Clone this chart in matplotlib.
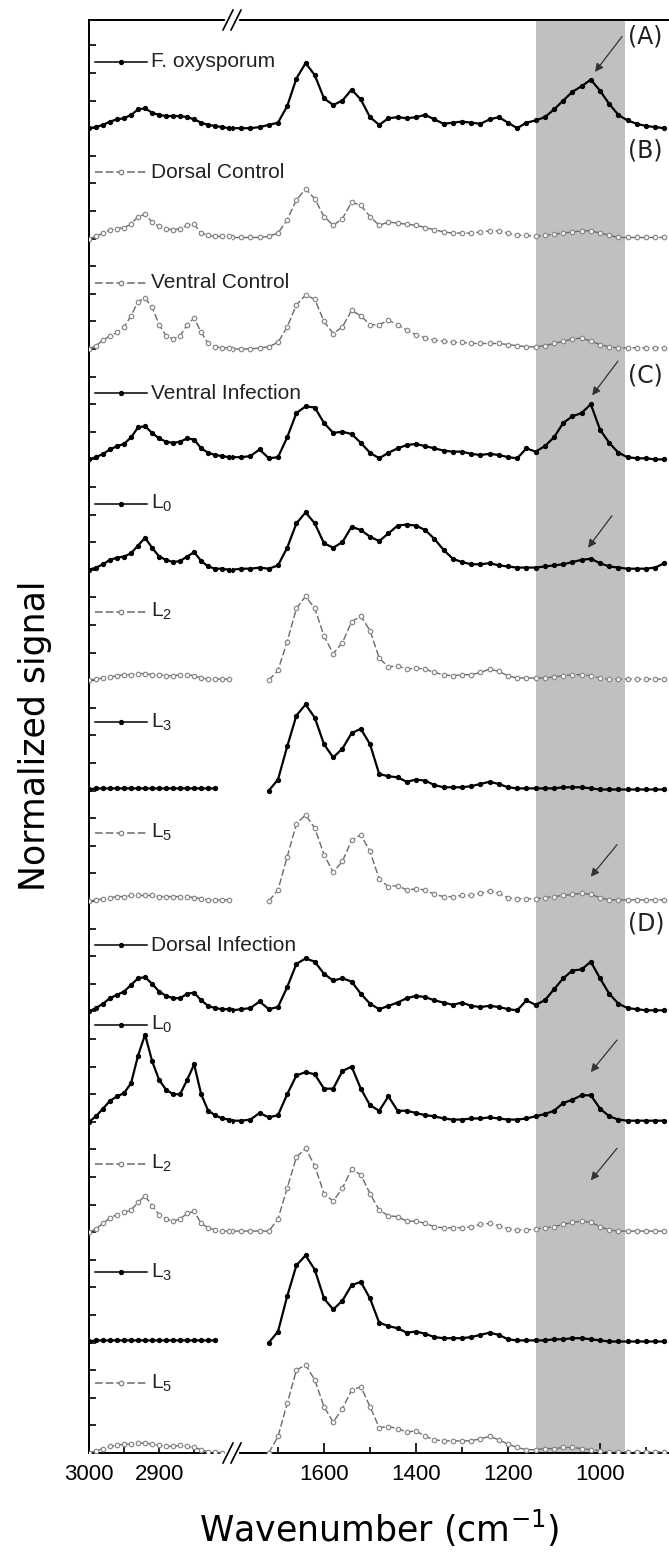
import numpy as np
import matplotlib
matplotlib.use("Agg")
import matplotlib.pyplot as plt
from matplotlib.lines import Line2D

nan = np.nan

# wavenumber grids for the two parts of the broken axis
wn_left = [3000, 2990, 2980, 2970, 2960, 2950, 2940, 2930, 2920, 2910, 2900,
           2890, 2880, 2870, 2860, 2850, 2840, 2830, 2820, 2810, 2800]
wn_right = [1800, 1780, 1760, 1740, 1720, 1700, 1680, 1660, 1640, 1620, 1600,
            1580, 1560, 1540, 1520, 1500, 1480, 1460, 1440, 1420, 1400, 1380,
            1360, 1340, 1320, 1300, 1280, 1260, 1240, 1220, 1200, 1180, 1160,
            1140, 1120, 1100, 1080, 1060, 1040, 1020, 1000, 980, 960, 940,
            920, 900, 880, 860]

labels = ["F. oxysporum", "Dorsal Control", "Ventral Control", "Ventral Infection",
          r"L$_0$", r"L$_2$", r"L$_3$", r"L$_5$", "Dorsal Infection",
          r"L$_0$", r"L$_2$", r"L$_3$", r"L$_5$"]
kinds = ["dark", "light", "light", "dark", "dark", "light", "dark", "light",
         "dark", "dark", "light", "dark", "light"]

# normalized signal (one unit = spacing between stacked spectra)
foxy_l = [0.0, 0.01, 0.03, 0.06, 0.08, 0.09, 0.12, 0.17, 0.18, 0.14, 0.12,
          0.11, 0.11, 0.11, 0.10, 0.08, 0.05, 0.03, 0.02, 0.01, 0.0]
foxy_r = [0.0, 0.0, 0.0, 0.01, 0.03, 0.05, 0.2, 0.45, 0.59, 0.48, 0.27,
          0.21, 0.25, 0.35, 0.26, 0.1, 0.03, 0.09, 0.1, 0.09, 0.1, 0.12,
          0.08, 0.04, 0.05, 0.06, 0.05, 0.04, 0.08, 0.1, 0.05, 0.0, 0.05,
          0.07, 0.1, 0.17, 0.25, 0.33, 0.38, 0.44, 0.34, 0.22, 0.12, 0.07,
          0.04, 0.02, 0.01, 0.0]
dc_l = [0.0, 0.02, 0.05, 0.08, 0.09, 0.10, 0.13, 0.2, 0.22, 0.15, 0.11,
        0.09, 0.08, 0.09, 0.12, 0.13, 0.05, 0.03, 0.02, 0.02, 0.02]
dc_r = [0.01, 0.01, 0.01, 0.01, 0.02, 0.05, 0.17, 0.35, 0.45, 0.36, 0.2,
        0.12, 0.18, 0.33, 0.3, 0.2, 0.12, 0.15, 0.14, 0.13, 0.12, 0.1,
        0.08, 0.06, 0.05, 0.05, 0.05, 0.06, 0.07, 0.07, 0.05, 0.03, 0.03,
        0.02, 0.03, 0.04, 0.05, 0.06, 0.07, 0.07, 0.05, 0.03, 0.01, 0.01,
        0.01, 0.01, 0.01, 0.01]
vc_l = [0.0, 0.03, 0.08, 0.12, 0.15, 0.2, 0.3, 0.43, 0.46, 0.38, 0.22,
        0.12, 0.09, 0.12, 0.22, 0.28, 0.15, 0.05, 0.02, 0.01, 0.01]
vc_r = [0.0, 0.0, 0.0, 0.01, 0.02, 0.06, 0.2, 0.4, 0.49, 0.45, 0.25,
        0.14, 0.2, 0.35, 0.3, 0.22, 0.22, 0.26, 0.22, 0.17, 0.13, 0.1,
        0.08, 0.07, 0.06, 0.06, 0.05, 0.05, 0.05, 0.05, 0.04, 0.03, 0.02,
        0.02, 0.03, 0.05, 0.07, 0.09, 0.1, 0.07, 0.04, 0.02, 0.01, 0.01,
        0.01, 0.01, 0.01, 0.01]
vi_l = [0.0, 0.02, 0.05, 0.09, 0.12, 0.14, 0.2, 0.29, 0.3, 0.24, 0.19,
        0.16, 0.15, 0.16, 0.19, 0.18, 0.1, 0.06, 0.04, 0.03, 0.02]
vi_r = [0.02, 0.02, 0.03, 0.09, 0.01, 0.02, 0.2, 0.42, 0.48, 0.47, 0.33,
        0.24, 0.25, 0.23, 0.15, 0.06, 0.01, 0.06, 0.1, 0.13, 0.14, 0.12,
        0.1, 0.08, 0.07, 0.07, 0.05, 0.04, 0.05, 0.04, 0.02, 0.01, 0.1,
        0.07, 0.12, 0.2, 0.33, 0.39, 0.42, 0.5, 0.27, 0.15, 0.06, 0.02,
        0.01, 0.01, 0.0, 0.0]
l0c_l = [0.0, 0.02, 0.05, 0.09, 0.11, 0.12, 0.15, 0.22, 0.29, 0.2, 0.12,
         0.09, 0.07, 0.08, 0.12, 0.16, 0.08, 0.03, 0.01, 0.01, 0.0]
l0c_r = [0.0, 0.01, 0.01, 0.02, 0.01, 0.04, 0.2, 0.42, 0.52, 0.42, 0.24,
         0.2, 0.25, 0.39, 0.36, 0.3, 0.26, 0.33, 0.4, 0.41, 0.4, 0.36,
         0.28, 0.18, 0.1, 0.07, 0.05, 0.05, 0.06, 0.04, 0.03, 0.02, 0.02,
         0.02, 0.03, 0.04, 0.05, 0.07, 0.09, 0.1, 0.06, 0.03, 0.02, 0.01,
         0.01, 0.01, 0.02, 0.06]
l2c_l = [0.0, 0.01, 0.02, 0.03, 0.04, 0.05, 0.05, 0.06, 0.06, 0.05, 0.05,
         0.04, 0.04, 0.05, 0.05, 0.04, 0.02, 0.01, 0.01, 0.01, 0.01]
l2c_r = [nan, nan, nan, nan, 0.0, 0.09, 0.35, 0.65, 0.76, 0.65, 0.4,
         0.24, 0.34, 0.53, 0.58, 0.45, 0.2, 0.12, 0.13, 0.1, 0.11, 0.1,
         0.07, 0.05, 0.04, 0.05, 0.05, 0.07, 0.1, 0.08, 0.04, 0.02, 0.02,
         0.02, 0.02, 0.03, 0.04, 0.05, 0.05, 0.04, 0.02, 0.01, 0.01, 0.01,
         0.01, 0.01, 0.01, 0.01]
l3c_l = [0.01, 0.02, 0.02, 0.02, 0.02, 0.02, 0.02, 0.02, 0.02, 0.02, 0.02,
         0.02, 0.02, 0.02, 0.02, 0.02, 0.02, 0.02, 0.02, nan, nan]
l3c_r = [nan, nan, nan, nan, 0.0, 0.1, 0.4, 0.68, 0.78, 0.66, 0.42,
         0.3, 0.38, 0.52, 0.56, 0.42, 0.15, 0.13, 0.12, 0.08, 0.1, 0.09,
         0.05, 0.03, 0.03, 0.03, 0.04, 0.06, 0.08, 0.06, 0.03, 0.02, 0.02,
         0.02, 0.02, 0.02, 0.03, 0.03, 0.03, 0.02, 0.01, 0.01, 0.01, 0.01,
         0.01, 0.01, 0.01, 0.01]
l5c_l = [0.0, 0.01, 0.02, 0.03, 0.04, 0.04, 0.05, 0.05, 0.05, 0.05, 0.04,
         0.04, 0.04, 0.04, 0.04, 0.03, 0.02, 0.01, 0.01, 0.01, 0.01]
l5c_r = [nan, nan, nan, nan, 0.0, 0.1, 0.4, 0.7, 0.78, 0.66, 0.42,
         0.26, 0.36, 0.55, 0.6, 0.45, 0.2, 0.13, 0.14, 0.1, 0.11, 0.1,
         0.06, 0.04, 0.04, 0.05, 0.05, 0.07, 0.09, 0.07, 0.03, 0.02, 0.02,
         0.02, 0.03, 0.04, 0.05, 0.06, 0.07, 0.06, 0.03, 0.01, 0.01, 0.01,
         0.01, 0.01, 0.01, 0.01]
di_l = [0.0, 0.03, 0.07, 0.12, 0.15, 0.18, 0.24, 0.3, 0.31, 0.25, 0.18,
        0.14, 0.12, 0.12, 0.16, 0.17, 0.1, 0.05, 0.03, 0.02, 0.02]
di_r = [0.01, 0.02, 0.03, 0.09, 0.02, 0.04, 0.22, 0.43, 0.48, 0.45, 0.34,
        0.28, 0.3, 0.27, 0.16, 0.07, 0.02, 0.05, 0.08, 0.12, 0.14, 0.13,
        0.1, 0.08, 0.06, 0.08, 0.05, 0.04, 0.05, 0.04, 0.02, 0.01, 0.1,
        0.06, 0.1, 0.2, 0.3, 0.37, 0.38, 0.45, 0.3, 0.16, 0.07, 0.03,
        0.02, 0.01, 0.01, 0.01]
l0d_l = [0.0, 0.05, 0.12, 0.19, 0.23, 0.26, 0.35, 0.6, 0.79, 0.55, 0.38,
         0.29, 0.25, 0.25, 0.38, 0.52, 0.25, 0.1, 0.06, 0.03, 0.02]
l0d_r = [0.01, 0.01, 0.02, 0.08, 0.04, 0.06, 0.25, 0.42, 0.45, 0.43, 0.3,
         0.3, 0.46, 0.5, 0.3, 0.15, 0.1, 0.23, 0.1, 0.1, 0.08, 0.06,
         0.05, 0.03, 0.02, 0.02, 0.03, 0.03, 0.04, 0.03, 0.02, 0.02, 0.03,
         0.05, 0.07, 0.1, 0.17, 0.2, 0.24, 0.24, 0.12, 0.05, 0.02, 0.01,
         0.01, 0.01, 0.01, 0.01]
l2d_l = [0.0, 0.03, 0.08, 0.13, 0.16, 0.18, 0.2, 0.27, 0.33, 0.24, 0.16,
         0.12, 0.1, 0.12, 0.17, 0.19, 0.08, 0.04, 0.02, 0.01, 0.01]
l2d_r = [0.01, 0.01, 0.01, 0.01, 0.01, 0.12, 0.4, 0.68, 0.76, 0.6, 0.35,
         0.28, 0.4, 0.57, 0.52, 0.35, 0.2, 0.15, 0.14, 0.1, 0.1, 0.08,
         0.05, 0.04, 0.04, 0.04, 0.05, 0.07, 0.08, 0.06, 0.03, 0.02, 0.02,
         0.03, 0.04, 0.05, 0.07, 0.09, 0.1, 0.09, 0.05, 0.02, 0.01, 0.01,
         0.01, 0.01, 0.01, 0.01]
l3d_l = [0.01, 0.02, 0.02, 0.02, 0.02, 0.02, 0.02, 0.02, 0.02, 0.02, 0.02,
         0.02, 0.02, 0.02, 0.02, 0.02, 0.02, 0.02, 0.02, nan, nan]
l3d_r = [nan, nan, nan, nan, 0.0, 0.1, 0.42, 0.7, 0.79, 0.66, 0.4,
         0.3, 0.38, 0.52, 0.55, 0.4, 0.18, 0.15, 0.13, 0.09, 0.1, 0.08,
         0.05, 0.04, 0.04, 0.04, 0.05, 0.07, 0.09, 0.07, 0.03, 0.02, 0.02,
         0.02, 0.02, 0.03, 0.03, 0.04, 0.04, 0.03, 0.02, 0.01, 0.01, 0.01,
         0.01, 0.01, 0.01, 0.01]
l5d_l = [0.0, 0.02, 0.04, 0.06, 0.07, 0.08, 0.08, 0.09, 0.09, 0.08, 0.07,
         0.06, 0.06, 0.07, 0.06, 0.05, 0.03, 0.01, 0.01, 0.0, 0.0]
l5d_r = [nan, nan, nan, nan, 0.0, 0.15, 0.45, 0.75, 0.8, 0.66, 0.42,
         0.28, 0.4, 0.57, 0.6, 0.42, 0.23, 0.24, 0.22, 0.19, 0.2, 0.15,
         0.12, 0.11, 0.11, 0.11, 0.11, 0.13, 0.15, 0.12, 0.08, 0.05, 0.03,
         0.03, 0.04, 0.04, 0.05, 0.05, 0.04, 0.03, 0.02, 0.01, 0.01, 0.01,
         0.01, 0.01, 0.01, 0.01]

left_sets = [foxy_l, dc_l, vc_l, vi_l, l0c_l, l2c_l, l3c_l, l5c_l,
             di_l, l0d_l, l2d_l, l3d_l, l5d_l]
right_sets = [foxy_r, dc_r, vc_r, vi_r, l0c_r, l2c_r, l3c_r, l5c_r,
              di_r, l0d_r, l2d_r, l3d_r, l5d_r]
label_dy = [0.6, 0.6, 0.6, 0.6, 0.6, 0.62, 0.62, 0.62, 0.6, 0.88, 0.62, 0.64, 0.63]

panel_tags = [("(A)", 12.83), ("(B)", 11.8), ("(C)", 9.76), ("(D)", 4.80)]
# arrows: (tail, head) in (wavenumber, signal)
arrows = [((952, 12.83), (1011, 12.51)),
          ((961, 9.89), (1017, 9.58)),
          ((974, 8.49), (1026, 8.20)),
          ((963, 5.51), (1020, 5.22)),
          ((963, 3.74), (1020, 3.45)),
          ((963, 2.76), (1020, 2.47))]

styles = {
    "dark": dict(color="black", lw=1.6, marker="o", ms=2.8, mfc="black", mec="black"),
    "light": dict(color="#6a6a6a", lw=1.0, ls=(0, (5, 2)), marker="o", ms=3.2,
                  mfc="white", mec="#8a8a8a", mew=0.9),
}

plt.rcParams["font.family"] = ["Liberation Sans", "DejaVu Sans"]
plt.rcParams["mathtext.default"] = "regular"

W, H = 669, 1557
fig = plt.figure(figsize=(W / 100, H / 100), dpi=100)
x_break = 232
axR = fig.add_axes([x_break / W, 1 - 1453 / H, (W - x_break) / W, 1433 / H])
axL = fig.add_axes([89 / W, 1 - 1453 / H, (x_break - 89) / W, 1433 / H], sharey=axR)
axL.patch.set_visible(False)
axL.set_zorder(3)

n = len(labels)
for i in range(n):
    off = n - 1 - i
    st = styles[kinds[i]]
    axL.plot(wn_left, np.array(left_sets[i]) + off, **st, zorder=3)
    axR.plot(wn_right, np.array(right_sets[i]) + off, **st, zorder=3)
    # legend-like handle and label
    ly = off + label_dy[i]
    axL.plot([2991, 2917], [ly, ly], color=st["color"], lw=1.1,
             ls=st.get("ls", "-"), zorder=3)
    axL.plot([2954], [ly], marker="o", ms=st["ms"], mfc=st["mfc"],
             mec=st["mec"], zorder=4)
    axL.text(2911, ly, labels[i], fontsize=15, va="center", ha="left",
             color="#222222", zorder=5, clip_on=False)

axR.axvspan(1140, 945, color="#c0c0c0", zorder=0, lw=0)

for tag, ty in panel_tags:
    axR.text(939, ty, tag, fontsize=17, family="DejaVu Sans", va="center",
             ha="left", color="#222222", clip_on=False)
for tail, head in arrows:
    axR.annotate("", xy=head, xytext=tail,
                 arrowprops=dict(arrowstyle="-|>", color="#333333", lw=0.9,
                                 mutation_scale=12, shrinkA=0, shrinkB=0))

axL.set_xlim(3000, 2796)
axR.set_xlim(1800, 850)
axR.set_ylim(0, 12.98)

for ax in (axL, axR):
    for s in ax.spines.values():
        s.set_linewidth(1.4)
    ax.tick_params(axis="x", which="major", direction="in", length=7, width=1.2,
                   labelsize=16, pad=8)
    ax.tick_params(axis="x", which="minor", direction="in", length=4, width=1.2)
axL.spines["right"].set_visible(False)
axR.spines["left"].set_visible(False)
axR.spines["right"].set_visible(False)

axL.set_xticks([3000, 2900])
axL.set_xticks([2950, 2850], minor=True)
axR.set_xticks([1600, 1400, 1200, 1000])
axR.set_xticks([1700, 1500, 1300, 1100, 900], minor=True)

axL.set_yticks(np.arange(0, 12.9, 0.25))
axL.tick_params(axis="y", direction="in", length=5, width=1.2, labelleft=False)
axR.tick_params(axis="y", left=False, labelleft=False)

# axis break marks
def fx(px):
    return px / W

def fy(py):
    return 1 - py / H

for yc in (20, 1453):
    fig.add_artist(Line2D([fx(x_break - 5), fx(x_break + 5)], [fy(yc), fy(yc)],
                          color="white", lw=3, zorder=10))
    for dx in (-4, 4):
        fig.add_artist(Line2D([fx(x_break + dx - 5), fx(x_break + dx + 5)],
                              [fy(yc + 10), fy(yc - 10)], color="black", lw=1.2,
                              zorder=11))

fig.text(35 / W, fy(736), "Normalized signal", rotation=90, fontsize=25,
         family="DejaVu Sans", ha="center", va="center")
fig.text(379 / W, fy(1528), r"Wavenumber (cm$^{\mathregular{-1}}$)", fontsize=25,
         family="DejaVu Sans", ha="center", va="center")

fig.savefig("out.png", dpi=100)
